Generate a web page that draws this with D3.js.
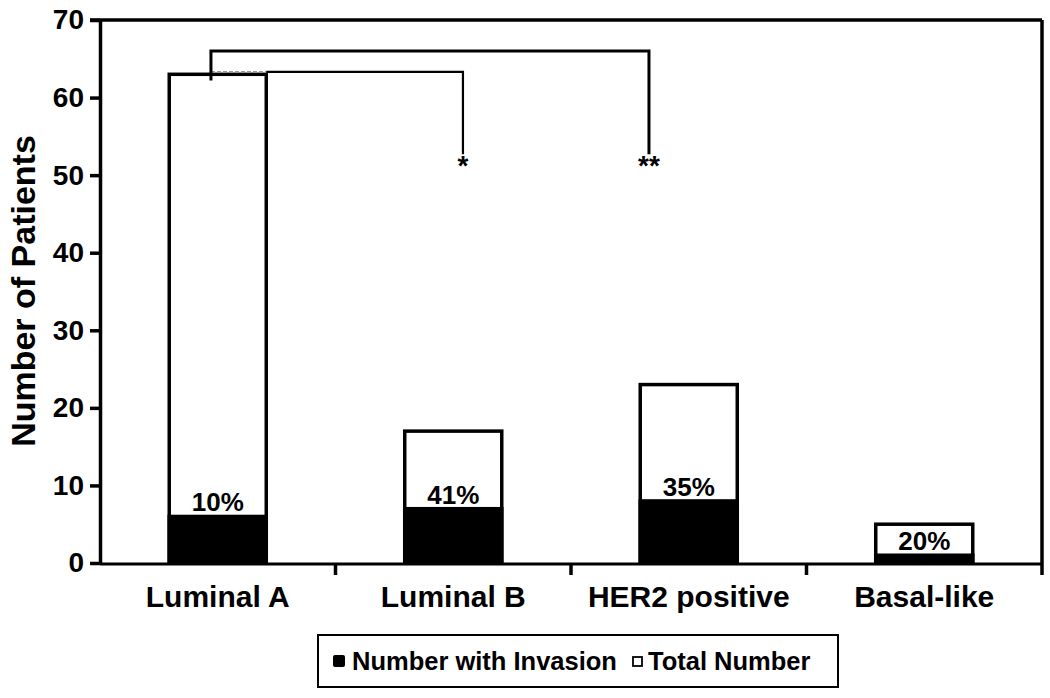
<!DOCTYPE html>
<html>
<head>
<meta charset="utf-8">
<script src="https://cdn.jsdelivr.net/npm/d3@7"></script>
<style>
  html, body { margin: 0; padding: 0; background: #fff; }
  svg { display: block; font-family: "Liberation Sans", Arial, Helvetica, sans-serif; font-weight: bold; }
</style>
</head>
<body>
<svg id="chart" width="1050" height="698"></svg>
<script>
// ---- data ----
const categories = ["Luminal A", "Luminal B", "HER2 positive", "Basal-like"];
const totalNumber = [63, 17, 23, 5];
const invasionNumber = [6, 7, 8, 1];
const percentLabels = ["10%", "41%", "35%", "20%"];
const yTicks = [0, 10, 20, 30, 40, 50, 60, 70];
const legendLabels = ["Number with Invasion", "Total Number"];
// significance brackets
const brackets = [
  { from: "Luminal A", fromFrac: 0.43, to: "Luminal B", toFrac: 0.6, level: 63.3, stub: null, drop: 52.7, label: "*" },
  { from: "Luminal A", fromFrac: 0.43, to: "HER2 positive", toFrac: 0.09, level: 66, stub: 62.2, drop: 52.7, label: "**" }
];

(function () {
const svg = d3.select("#chart");
const mLeft = 100, mRight = 1042, mTop = 20, mBottom = 563;

const x = d3.scaleBand().domain(categories).range([mLeft, mRight])
  .paddingInner(0.588).paddingOuter(0.294);
const y = d3.scaleLinear().domain([0, 70]).range([mBottom, mTop]);

// bars
const bars = svg.append("g");
categories.forEach((c, i) => {
  bars.append("rect")
    .attr("x", x(c)).attr("y", y(totalNumber[i]))
    .attr("width", x.bandwidth()).attr("height", y(0) - y(totalNumber[i]))
    .attr("fill", "#fff").attr("stroke", "#000").attr("stroke-width", 3.5);
  bars.append("rect")
    .attr("x", x(c)).attr("y", y(invasionNumber[i]))
    .attr("width", x.bandwidth()).attr("height", y(0) - y(invasionNumber[i]))
    .attr("fill", "#000").attr("stroke", "#000").attr("stroke-width", 3.5);
  bars.append("text")
    .attr("x", x(c) + x.bandwidth() / 2).attr("y", y(invasionNumber[i]) - 5)
    .attr("text-anchor", "middle").attr("font-size", 26)
    .text(percentLabels[i]);
});

// y axis
const yAxis = d3.axisLeft(y).tickValues(yTicks).tickSize(10).tickSizeOuter(0).tickPadding(6);
const gy = svg.append("g").attr("transform", `translate(${mLeft},0)`).call(yAxis);
gy.select(".domain").attr("stroke-width", 3.5);
gy.selectAll(".tick line").attr("stroke-width", 3.5);
gy.selectAll(".tick text").attr("font-size", 28).attr("font-family", null).attr("font-weight", "bold").attr("fill", "#000");

// frame lines
svg.append("line").attr("x1", mLeft - 10).attr("x2", mRight).attr("y1", y(70)).attr("y2", y(70))
  .attr("stroke", "#000").attr("stroke-width", 3.5);
svg.append("line").attr("x1", mRight).attr("x2", mRight).attr("y1", y(70)).attr("y2", y(0) + 12)
  .attr("stroke", "#000").attr("stroke-width", 3.5);

// x axis line
svg.append("line").attr("x1", mLeft).attr("x2", mRight).attr("y1", y(0) + 1).attr("y2", y(0) + 1)
  .attr("stroke", "#000").attr("stroke-width", 3);
const gap = x.step() - x.bandwidth();
categories.slice(1).forEach(c => {
  const bx = x(c) - gap / 2;
  svg.append("line").attr("x1", bx).attr("x2", bx).attr("y1", y(0)).attr("y2", y(0) + 12)
    .attr("stroke", "#000").attr("stroke-width", 3.5);
});
categories.forEach(c => {
  svg.append("text").attr("x", x(c) + x.bandwidth() / 2).attr("y", 607)
    .attr("text-anchor", "middle").attr("font-size", 30).text(c);
});

// y title
svg.append("text")
  .attr("transform", `translate(35, 291) rotate(-90)`)
  .attr("text-anchor", "middle").attr("font-size", 34)
  .text("Number of Patients");

// brackets
brackets.forEach(b => {
  const x1 = x(b.from) + b.fromFrac * x.bandwidth();
  const x2 = x(b.to) + b.toFrac * x.bandwidth();
  const yl = y(b.level), yd = y(b.drop);
  const g = svg.append("g").attr("fill", "none").attr("stroke", "#000");
  if (b.stub === null) {
    const barRight = x(b.from) + x.bandwidth();
    g.append("line").attr("x1", x1).attr("x2", barRight).attr("y1", yl).attr("y2", yl)
      .attr("stroke", "#999").attr("stroke-width", 2).attr("stroke-dasharray", "4,2");
    g.append("path").attr("d", `M${barRight},${yl}H${x2}V${yd}`).attr("stroke-width", 2.2);
  } else {
    g.append("path").attr("d", `M${x1},${y(b.stub)}V${yl}H${x2}V${yd}`).attr("stroke-width", 3);
  }
  svg.append("text").attr("x", x2).attr("y", yd + 21)
    .attr("text-anchor", "middle").attr("font-size", 28).text(b.label);
});

// legend
const lg = svg.append("g");
lg.append("rect").attr("x", 318).attr("y", 635).attr("width", 520).attr("height", 52)
  .attr("fill", "#fff").attr("stroke", "#000").attr("stroke-width", 2);
lg.append("rect").attr("x", 333).attr("y", 655).attr("width", 12).attr("height", 12).attr("rx", 2)
  .attr("fill", "#000");
lg.append("text").attr("x", 352).attr("y", 670).attr("font-size", 25.5).text(legendLabels[0]);
lg.append("rect").attr("x", 633).attr("y", 657).attr("width", 9).attr("height", 9)
  .attr("fill", "#fff").attr("stroke", "#000").attr("stroke-width", 1.8);
lg.append("text").attr("x", 648).attr("y", 670).attr("font-size", 25.5).text(legendLabels[1]);
})();
</script>
</body>
</html>
